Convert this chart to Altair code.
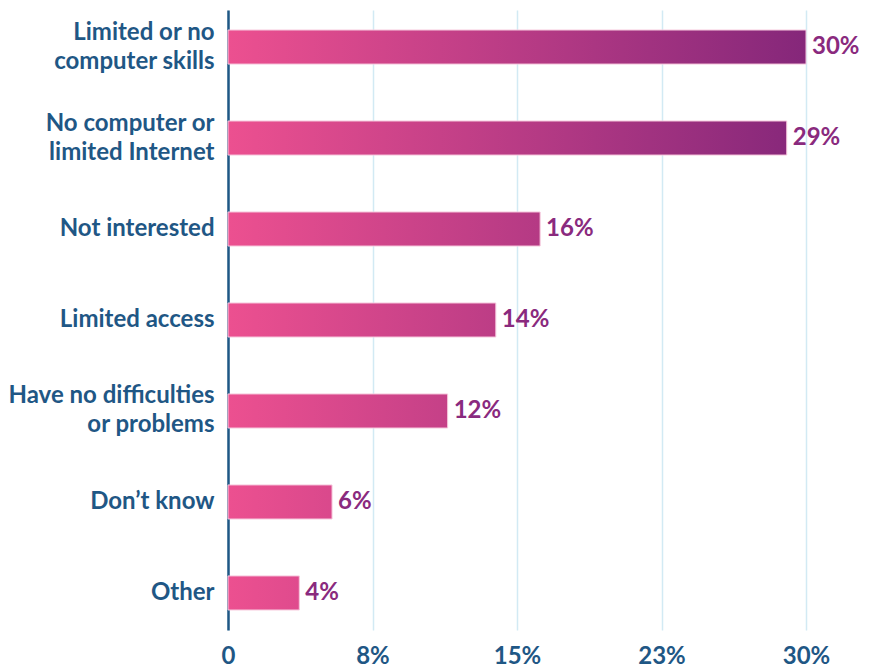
import altair as alt
import pandas as pd

categories = [
    "Limited or no\ncomputer skills",
    "No computer or\nlimited Internet",
    "Not interested",
    "Limited access",
    "Have no difficulties\nor problems",
    "Don\u2019t know",
    "Other",
]
values = [30.0, 29.0, 16.2, 13.9, 11.4, 5.4, 3.7]
value_labels = ["30%", "29%", "16%", "14%", "12%", "6%", "4%"]
x_ticks = [0, 7.5, 15, 22.5, 30]

X_MAX = 30
PINK = "#ec5090"
PURPLE = "#85277a"
BLUE = "#1f5785"
FONT = "Lato"
FS = 24

df = pd.DataFrame({
    "idx": list(range(len(categories))),
    "category": categories,
    "value": values,
    "label": value_labels,
})

y_enc = alt.Y(
    "category:N",
    sort=categories,
    title=None,
    scale=alt.Scale(paddingInner=0.626, paddingOuter=0.22),
    axis=alt.Axis(
        labelExpr="split(datum.label, '\\n')",
        labelFont=FONT,
        labelFontSize=FS,
        labelFontWeight="bold",
        labelColor=BLUE,
        labelLineHeight=29,
        labelPadding=14,
        labelLimit=400,
        labelOffset=alt.condition("indexof(datum.value, '\\n') >= 0", alt.value(-14.5), alt.value(0)),
        ticks=False,
        domainColor=BLUE,
        domainWidth=2.5,
        grid=False,
    ),
)
x_enc = alt.X(
    "value:Q",
    title=None,
    scale=alt.Scale(domain=[0, X_MAX], nice=False),
    axis=alt.Axis(
        values=x_ticks,
        labelExpr="datum.value == 0 ? '0' : format(datum.value, '.0f') + '%'",
        labelFont=FONT,
        labelFontSize=FS,
        labelFontWeight="bold",
        labelColor=BLUE,
        labelPadding=14,
        labelFlush=False,
        ticks=False,
        domain=False,
        grid=True,
        gridColor="#d2eaf4",
        gridWidth=1.5,
    ),
)

base = alt.Chart(df).encode(y=y_enc, x=x_enc)

layers = []
for i, v in enumerate(values):
    grad = alt.LinearGradient(
        gradient="linear",
        x1=0, x2=X_MAX / v, y1=0, y2=0,
        stops=[
            alt.GradientStop(color=PINK, offset=0),
            alt.GradientStop(color=PURPLE, offset=1),
        ],
    )
    layers.append(
        base.transform_filter(alt.datum.idx == i).mark_bar(
            color=grad, stroke="#f6c7dc", strokeWidth=1
        )
    )

text = base.mark_text(
    align="left", baseline="middle", dx=6, font=FONT, fontSize=FS,
    fontWeight="bold", color="#8a2a7e",
).encode(text="label:N")

chart = alt.layer(*layers, text).properties(
    width=578, height=620,
    padding={"left": 0, "top": 2, "right": 0, "bottom": 0},
).configure_view(stroke=None)

chart.save("out.html", embed_options={"renderer": "svg", "actions": False})
